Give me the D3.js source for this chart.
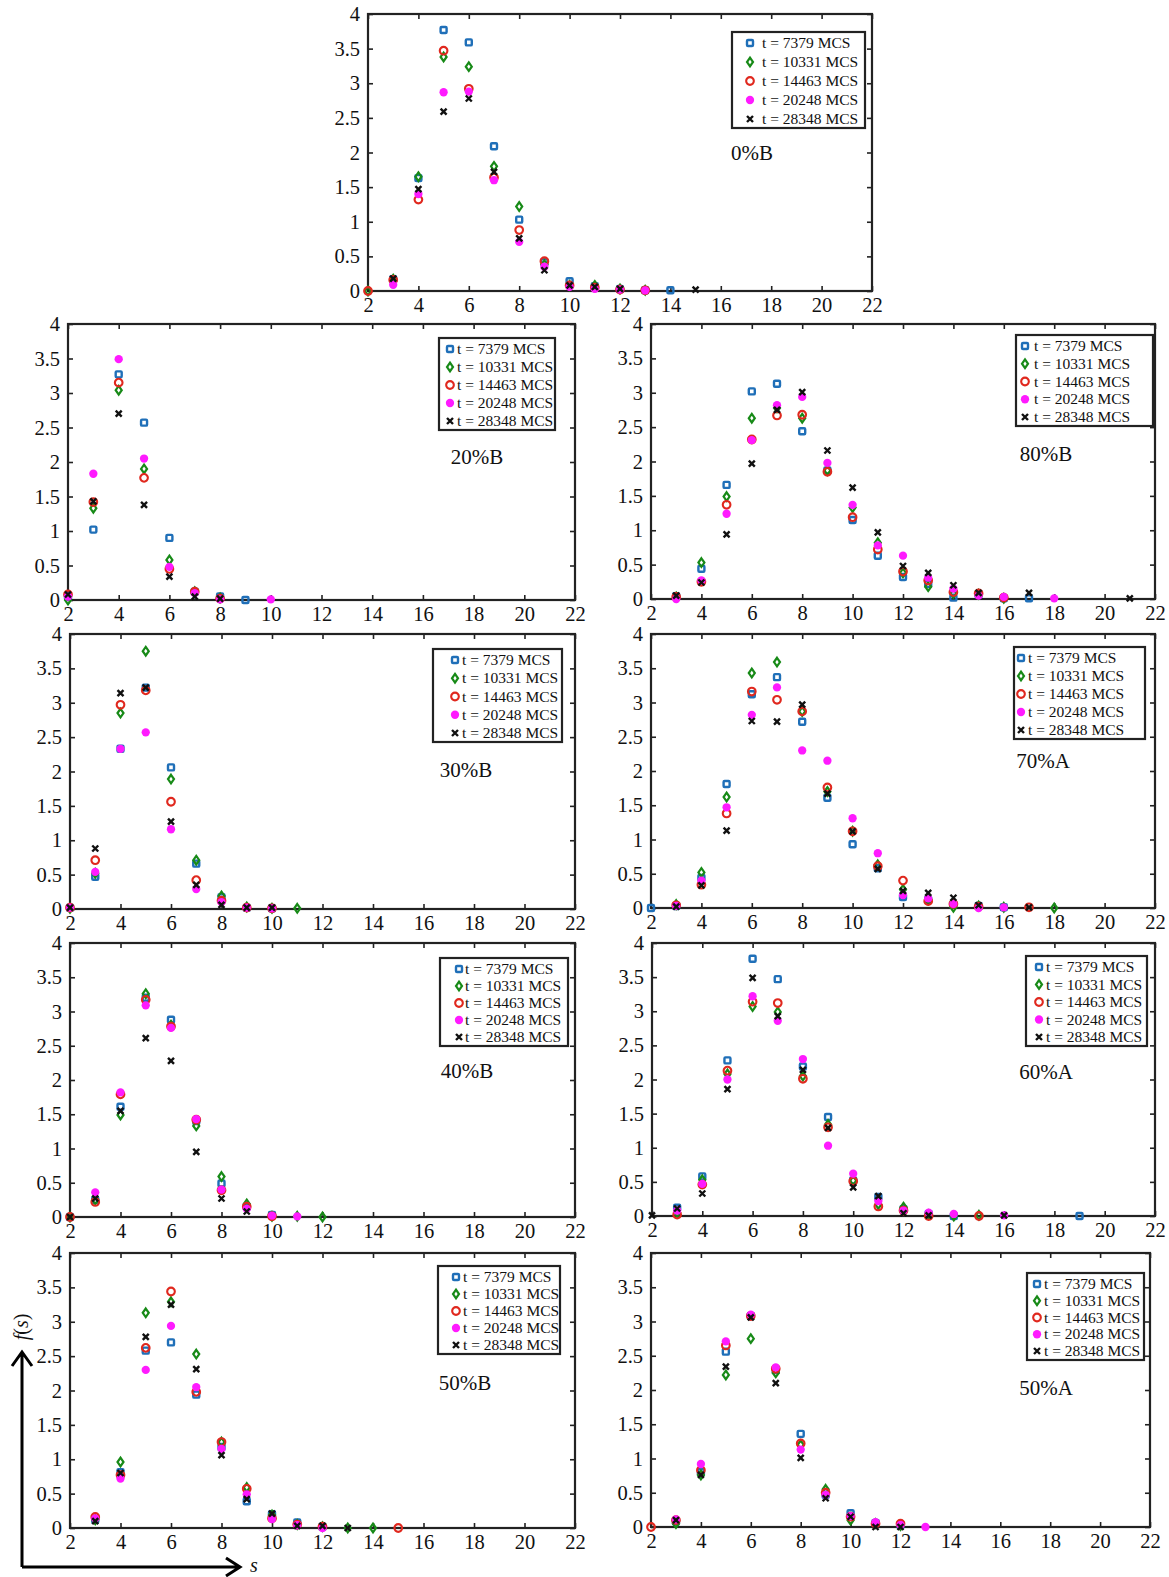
<!DOCTYPE html>
<html>
<head>
<meta charset="utf-8">
<script src="https://cdn.jsdelivr.net/npm/d3@7"></script>
<style>
body { margin: 0; background: #fff; }
svg { display: block; }
text { font-family: "Liberation Serif", "Times New Roman", serif; fill: #111; }
</style>
</head>
<body>
<script>
// cluster size s starts at 2 in every array; null = no point
const seriesLabels = ['t = 7379 MCS', 't = 10331 MCS', 't = 14463 MCS', 't = 20248 MCS', 't = 28348 MCS']
const xTicks = [2, 4, 6, 8, 10, 12, 14, 16, 18, 20, 22]
const yTicks = [0, 0.5, 1, 1.5, 2, 2.5, 3, 3.5, 4]
const yTickLabels = ['0', '0.5', '1', '1.5', '2', '2.5', '3', '3.5', '4']
const panelNames = ['0%B', '20%B', '80%B', '30%B', '70%A', '40%B', '60%A', '50%B', '50%A']

const p0B = [
	[null, 0.17, 1.63, 3.77, 3.59, 2.09, 1.03, 0.42, 0.14, 0.07, 0.03, 0.01, 0.01],
	[0.0, 0.17, 1.65, 3.38, 3.24, 1.80, 1.22, 0.38, 0.08, 0.08, 0.03, 0.01],
	[0.0, 0.16, 1.32, 3.47, 2.92, 1.64, 0.88, 0.43, 0.08, 0.05, 0.02, 0.01],
	[null, 0.09, 1.40, 2.87, 2.88, 1.60, 0.71, 0.35, 0.06, 0.03, 0.02, 0.01],
	[null, 0.18, 1.47, 2.59, 2.78, 1.72, 0.76, 0.30, 0.08, 0.06, 0.03, null, null, 0.02]
]
const p20B = [
	[0.05, 1.02, 3.27, 2.57, 0.90, 0.12, 0.05, 0.0],
	[0.0, 1.33, 3.04, 1.90, 0.58, 0.12, 0.03],
	[0.08, 1.42, 3.15, 1.77, 0.45, 0.12, 0.02],
	[0.05, 1.83, 3.49, 2.05, 0.48, 0.10, 0.01, null, 0.01],
	[0.08, 1.43, 2.70, 1.38, 0.34, 0.05, 0.02]
]
const p80B = [
	[null, 0.04, 0.44, 1.66, 3.02, 3.13, 2.44, 1.87, 1.15, 0.63, 0.32, 0.22, 0.02, 0.07, 0.01, 0.01],
	[null, 0.03, 0.53, 1.49, 2.63, 2.78, 2.63, 1.87, 1.33, 0.82, 0.38, 0.18, 0.08, 0.07, 0.01],
	[null, 0.03, 0.25, 1.37, 2.32, 2.67, 2.68, 1.85, 1.19, 0.72, 0.40, 0.27, 0.10, 0.08, 0.02],
	[null, 0.0, 0.27, 1.24, 2.31, 2.82, 2.94, 1.98, 1.37, 0.78, 0.63, 0.31, 0.15, 0.05, 0.03, null, 0.01],
	[null, 0.05, 0.24, 0.94, 1.97, 2.75, 3.01, 2.16, 1.62, 0.97, 0.48, 0.38, 0.20, 0.09, null, 0.09, null, null, null, 0.01]
]
const p30B = [
	[0.02, 0.47, 2.33, 3.22, 2.06, 0.66, 0.17, 0.02, 0.01],
	[0.01, 0.52, 2.85, 3.75, 1.89, 0.71, 0.19, 0.03, 0.01, 0.01],
	[0.02, 0.71, 2.97, 3.18, 1.56, 0.42, 0.12, 0.02, 0.01],
	[0.02, 0.54, 2.33, 2.57, 1.16, 0.29, 0.10, 0.02, 0.01],
	[0.02, 0.88, 3.14, 3.22, 1.27, 0.35, 0.06, 0.02, 0.02]
]
const p70A = [
	[0.0, 0.03, 0.44, 1.81, 3.12, 3.37, 2.72, 1.61, 0.93, 0.58, 0.16, 0.12, 0.05, 0.03, 0.01],
	[null, 0.05, 0.52, 1.62, 3.43, 3.59, 2.87, 1.70, 1.12, 0.63, 0.27, 0.12, 0.01, 0.03, 0.01, null, 0.0],
	[null, 0.04, 0.34, 1.38, 3.16, 3.04, 2.87, 1.76, 1.12, 0.61, 0.40, 0.10, 0.06, 0.02, null, 0.01],
	[null, 0.03, 0.40, 1.47, 2.82, 3.22, 2.30, 2.15, 1.31, 0.80, 0.19, 0.14, 0.06, 0.0, 0.01],
	[null, 0.02, 0.33, 1.13, 2.73, 2.72, 2.97, 1.67, 1.12, 0.57, 0.25, 0.22, 0.15, 0.04, null, 0.01]
]
const p40B = [
	[0.0, 0.25, 1.61, 3.20, 2.88, 1.40, 0.49, 0.15, 0.03],
	[0.0, 0.25, 1.49, 3.26, 2.80, 1.33, 0.59, 0.19, 0.01, 0.01, 0.0],
	[0.0, 0.22, 1.79, 3.17, 2.78, 1.42, 0.39, 0.15, 0.01],
	[null, 0.36, 1.82, 3.09, 2.76, 1.43, 0.40, 0.12, 0.02, 0.01],
	[0.0, 0.27, 1.55, 2.61, 2.28, 0.95, 0.27, 0.08]
]
const p60A = [
	[null, 0.12, 0.58, 2.28, 3.77, 3.47, 2.19, 1.45, 0.52, 0.28, 0.10, 0.03, 0.0, null, null, null, null, 0.0],
	[null, 0.05, 0.53, 2.08, 3.07, 2.99, 2.05, 1.34, 0.52, 0.17, 0.13, 0.02, 0.0, 0.01],
	[null, 0.02, 0.46, 2.13, 3.14, 3.12, 2.01, 1.30, 0.51, 0.14, 0.08, 0.0, null, 0.0],
	[null, 0.08, 0.47, 2.00, 3.22, 2.86, 2.30, 1.03, 0.62, 0.22, 0.08, 0.05, 0.03, null, 0.01],
	[0.01, 0.11, 0.33, 1.86, 3.49, 2.93, 2.14, 1.29, 0.42, 0.29, 0.04, 0.01, null, null, 0.01]
]
const p50B = [
	[null, 0.12, 0.81, 2.58, 2.70, 1.94, 1.18, 0.39, 0.20, 0.08, 0.02],
	[null, 0.12, 0.96, 3.13, 3.29, 2.53, 1.25, 0.59, 0.19, 0.05, 0.02, 0.0, 0.0],
	[null, 0.16, 0.77, 2.62, 3.44, 1.98, 1.25, 0.57, 0.14, 0.05, 0.02, null, null, 0.0],
	[null, 0.14, 0.72, 2.30, 2.94, 2.05, 1.15, 0.49, 0.13, 0.04, 0.0],
	[null, 0.10, 0.80, 2.78, 3.25, 2.31, 1.06, 0.42, 0.21, 0.03, 0.03, 0.0]
]
const p50A = [
	[null, 0.08, 0.80, 2.56, 3.08, 2.29, 1.36, 0.47, 0.20, 0.06, 0.03],
	[null, 0.05, 0.76, 2.22, 2.75, 2.25, 1.20, 0.55, 0.10, 0.05, 0.02],
	[0.0, 0.10, 0.83, 2.65, 3.08, 2.31, 1.22, 0.50, 0.15, 0.05, 0.05],
	[null, 0.11, 0.92, 2.71, 3.10, 2.33, 1.13, 0.47, 0.16, 0.07, 0.03, 0.0],
	[null, 0.10, 0.76, 2.34, 3.06, 2.10, 1.01, 0.42, 0.15, 0.0, 0.0]
]
const panelData = [p0B, p20B, p80B, p30B, p70A, p40B, p60A, p50B, p50A]

// frame box [left, right, top, bottom], legend box [x, y, w, h, markerX, textX], label [x, y]
const layout = [
	{ box: [368, 872, 14, 291], leg: [732, 32, 133, 96, 750, 762], lab: [752, 160] },
	{ box: [68, 575, 324, 600], leg: [439, 338, 116, 92, 450, 457], lab: [477, 464] },
	{ box: [651, 1155, 324, 599], leg: [1016, 335, 137, 91, 1025, 1034], lab: [1046, 461] },
	{ box: [70, 575, 634, 909], leg: [433, 649, 129, 93, 455, 462], lab: [466, 777] },
	{ box: [651, 1155, 634, 908], leg: [1014, 647, 131, 92, 1021, 1028], lab: [1043, 768] },
	{ box: [70, 575, 943, 1217], leg: [440, 958, 128, 88, 459, 465], lab: [467, 1078] },
	{ box: [652, 1155, 943, 1216], leg: [1026, 956, 121, 90, 1039, 1046], lab: [1046, 1079] },
	{ box: [70, 575, 1253, 1528], leg: [438, 1266, 122, 88, 456, 463], lab: [465, 1390] },
	{ box: [651, 1150, 1253, 1527], leg: [1027, 1273, 117, 87, 1037, 1044], lab: [1046, 1395] }
]

const colors = ['#1f6fb8', '#178a17', '#e0281e', '#ff1aff', '#111']
const markerPaths = [
	'M-2,-3H2Q3,-3 3,-2V2Q3,3 2,3H-2Q-3,3 -3,2V-2Q-3,-3 -2,-3Z',
	'M0,-4.3L3,0L0,4.3L-3,0Z',
	d3.symbol(d3.symbolCircle, 46)(),
	d3.symbol(d3.symbolCircle, 54)(),
	'M-3,-3L3,3M-3,3L3,-3'
]
const strokeW = [2.4, 2.2, 2.1, 0, 2.4]
const filled = [false, false, false, true, false]

const svg = d3.select('body').append('svg').attr('width', 1169).attr('height', 1577)

function drawMark(g, i, x, y) {
	g.append('path')
		.attr('d', markerPaths[i])
		.attr('transform', 'translate(' + x + ',' + y + ')')
		.attr('fill', filled[i] ? colors[i] : 'none')
		.attr('stroke', filled[i] ? 'none' : colors[i])
		.attr('stroke-width', strokeW[i])
}

panelData.forEach((series, p) => {
	const L = layout[p]
	const [x0, x1, y0, y1] = L.box
	const x = d3.scaleLinear().domain([2, 22]).range([x0, x1])
	const y = d3.scaleLinear().domain([0, 4]).range([y1, y0])
	const g = svg.append('g')

	// tick marks on all four sides, pointing inwards
	g.append('g').attr('transform', 'translate(0,' + y1 + ')')
		.call(d3.axisBottom(x).tickValues(xTicks).tickSize(-5).tickPadding(6).tickFormat(d3.format('d')))
	g.append('g').attr('transform', 'translate(0,' + y0 + ')')
		.call(d3.axisTop(x).tickValues(xTicks).tickSize(-5).tickFormat(''))
	g.append('g').attr('transform', 'translate(' + x0 + ',0)')
		.call(d3.axisLeft(y).tickValues(yTicks).tickSize(-5).tickPadding(8).tickFormat((d, i) => yTickLabels[i]))
	g.append('g').attr('transform', 'translate(' + x1 + ',0)')
		.call(d3.axisRight(y).tickValues(yTicks).tickSize(-5).tickFormat(''))
	g.selectAll('.domain').remove()
	g.selectAll('.tick line').attr('stroke', '#222').attr('stroke-width', 1.6)
	g.selectAll('.tick text').style('font-size', '20.5px').attr('fill', '#111')
		.style('font-family', '"Liberation Serif", serif')

	g.append('rect')
		.attr('x', x0).attr('y', y0).attr('width', x1 - x0).attr('height', y1 - y0)
		.attr('fill', 'none').attr('stroke', '#222').attr('stroke-width', 2.2)

	series.forEach((vals, i) => {
		vals.forEach((v, k) => {
			if (v === null) return
			drawMark(g, i, x(k + 2), y(v))
		})
	})

	// legend
	const [lx, ly, lw, lh, mx, tx] = L.leg
	g.append('rect').attr('x', lx).attr('y', ly).attr('width', lw).attr('height', lh)
		.attr('fill', '#fff').attr('stroke', '#222').attr('stroke-width', 2.2)
	seriesLabels.forEach((s, i) => {
		const ry = ly + 11 + i * (lh - 20) / 4
		drawMark(g, i, mx, ry)
		g.append('text').attr('x', tx).attr('y', ry + 5).style('font-size', '15.5px').text(s)
	})

	g.append('text').attr('x', L.lab[0]).attr('y', L.lab[1])
		.attr('text-anchor', 'middle').style('font-size', '21px').text(panelNames[p])
})

// axis arrows in the lower left corner
const arrow = svg.append('g').attr('stroke', '#000').attr('stroke-width', 3).attr('fill', 'none')
arrow.append('path').attr('d', 'M22,1567 V1352 M12,1366 L22,1352 L32,1366')
arrow.append('path').attr('d', 'M22,1567 H240 M226,1558 L240,1567 L226,1576')
svg.append('text').attr('x', 250).attr('y', 1572).style('font-size', '20px').style('font-style', 'italic').text('s')
svg.append('text').attr('transform', 'translate(28,1327) rotate(-90)').attr('text-anchor', 'middle')
	.style('font-size', '20px').html('<tspan font-style="italic">f</tspan>(<tspan font-style="italic">s</tspan>)')
</script>
</body>
</html>
